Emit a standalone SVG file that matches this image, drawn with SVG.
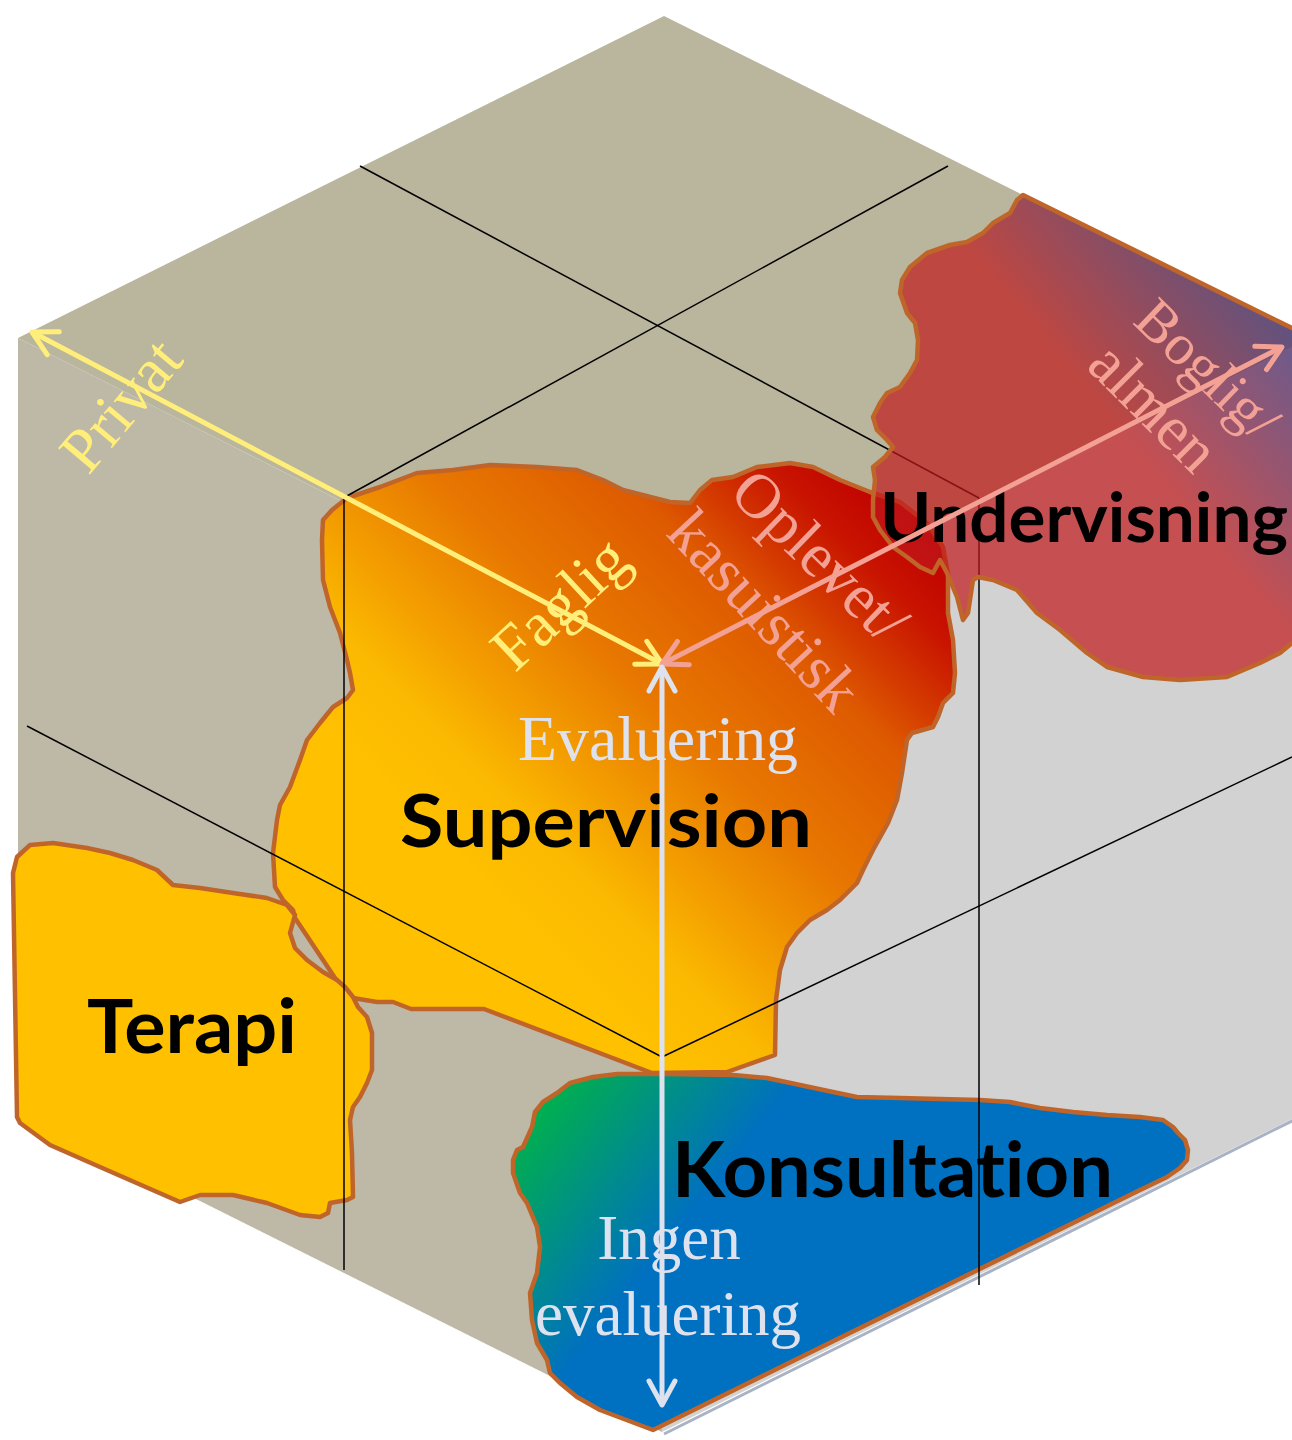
<svg xmlns="http://www.w3.org/2000/svg" width="1292" height="1440" viewBox="0 0 1292 1440">
<style>
.blob{stroke:#C0652A;stroke-width:4.5;stroke-linejoin:round}
.grid{stroke:#000;stroke-width:1.5;fill:none}
.bold{font-family:Lato,"Liberation Sans",sans-serif;font-weight:700;fill:#000;font-variant-ligatures:none;font-feature-settings:"liga" 0,"dlig" 0}
.serif{font-family:"Liberation Serif","Times New Roman",serif}
.ax{fill:none;stroke-width:5}
</style>
<defs>
<linearGradient id="gSup" gradientUnits="userSpaceOnUse" x1="500" y1="900" x2="900" y2="500">
<stop offset="0" stop-color="#FFC000"/>
<stop offset="0.14" stop-color="#FBB800"/>
<stop offset="0.44" stop-color="#E87800"/>
<stop offset="0.68" stop-color="#DE5A00"/>
<stop offset="0.88" stop-color="#C81400"/>
<stop offset="1" stop-color="#C00000"/>
</linearGradient>
<linearGradient id="gUnd" gradientUnits="userSpaceOnUse" x1="1000" y1="560" x2="1300" y2="310">
<stop offset="0" stop-color="#C0181A"/>
<stop offset="0.45" stop-color="#C0181A"/>
<stop offset="1" stop-color="#2E2A7A"/>
</linearGradient>
<linearGradient id="gKon" gradientUnits="userSpaceOnUse" x1="525" y1="1125" x2="670" y2="1240">
<stop offset="0" stop-color="#00B050"/>
<stop offset="0.15" stop-color="#00A65E"/>
<stop offset="1" stop-color="#0070C0"/>
</linearGradient>
<marker id="mY" viewBox="0 0 30 30" refX="27" refY="15" markerWidth="30" markerHeight="30" markerUnits="userSpaceOnUse" orient="auto-start-reverse" overflow="visible">
<path d="M3,2 L27,15 L3,28" fill="none" stroke="#FFEF7A" stroke-width="5" stroke-linecap="round" stroke-linejoin="round"/>
</marker>
<marker id="mS" viewBox="0 0 30 30" refX="27" refY="15" markerWidth="30" markerHeight="30" markerUnits="userSpaceOnUse" orient="auto-start-reverse" overflow="visible">
<path d="M3,2 L27,15 L3,28" fill="none" stroke="#F2A194" stroke-width="5" stroke-linecap="round" stroke-linejoin="round"/>
</marker>
<marker id="mL" viewBox="0 0 30 30" refX="27" refY="15" markerWidth="30" markerHeight="30" markerUnits="userSpaceOnUse" orient="auto-start-reverse" overflow="visible">
<path d="M3,2 L27,15 L3,28" fill="none" stroke="#DDE2EE" stroke-width="5" stroke-linecap="round" stroke-linejoin="round"/>
</marker>
</defs>
<rect x="0" y="0" width="1292" height="1440" fill="#FFFFFF"/>
<g id="cube">
<path d="M664,16 L1310,338 L662,663 L18,338 Z" fill="#BAB59D"/>
<path d="M18,338 L662,663 L662,1432 L18,1110 Z" fill="#BEB9A6"/>
<path d="M662,663 L1310,338 L1310,1110 L662,1432 Z" fill="#D2D2D2"/>
<path d="M664,1434 L1310,1112" stroke="#A9B3C6" stroke-width="3" fill="none"/>
</g>
<g id="node-supervision">
<path class="blob" fill="url(#gSup)" d="M323,520 L332,510 L347,498 L380,487 L417,473 L453,470 L490,465 L537,467 L577,470 L603,480 L623,490 L670,502 L690,503 L700,490 L712,480 L733,477 L757,467 L790,463 L813,467 L840,480 L870,492 L900,502 L927,523 L943,547 L948,575 L948,613 L953,640 L955,673 L953,693 L943,703 L938,717 L933,727 L912,733 L907,740 L902,773 L897,800 L888,823 L873,850 L863,870 L857,883 L840,900 L827,910 L810,920 L797,933 L787,947 L780,970 L776,1000 L775,1055 L727,1072 L652,1073 L484,1009 L446,1009 L411,1009 L393,1002 L377,1002 L353,998 L343,990 L295,918 L293,910 L283,900 L275,887 L273,853 L277,820 L280,805 L290,787 L300,760 L307,740 L320,723 L333,707 L347,698 L353,690 L350,673 L347,660 L340,633 L330,607 L323,580 L322,540 Z"/>
<text class="bold" x="400" y="847" font-size="72" textLength="412" lengthAdjust="spacingAndGlyphs">Supervision</text>
</g>
<g id="node-terapi">
<path class="blob" fill="#FFC000" d="M13,873 L17,857 L30,845 L53,843 L87,848 L110,853 L133,860 L157,870 L173,885 L200,888 L233,893 L267,898 L287,905 L295,915 L290,933 L295,948 L307,960 L323,972 L337,980 L345,987 L353,997 L358,1007 L367,1017 L372,1033 L372,1070 L367,1083 L360,1097 L353,1107 L350,1120 L352,1153 L353,1197 L347,1200 L330,1203 L328,1213 L320,1217 L300,1215 L267,1203 L233,1195 L200,1195 L180,1202 L100,1167 L50,1145 L20,1123 L17,1117 Z"/>
<text class="bold" x="87" y="1053" font-size="74" textLength="210" lengthAdjust="spacingAndGlyphs">Terapi</text>
</g>
<g id="node-konsultation">
<path class="blob" fill="url(#gKon)" d="M513,1160 L517,1150 L523,1147 L532,1127 L535,1112 L543,1102 L557,1093 L570,1083 L593,1077 L617,1074 L667,1074 L733,1075 L767,1078 L800,1085 L833,1092 L857,1097 L900,1098 L980,1100 L1010,1102 L1040,1108 L1073,1112 L1107,1115 L1140,1117 L1163,1120 L1173,1127 L1178,1133 L1185,1140 L1188,1150 L1187,1160 L1180,1168 L1167,1177 L1140,1190 L653,1430 L600,1410 L577,1397 L560,1383 L550,1373 L547,1360 L537,1343 L532,1320 L530,1293 L537,1273 L540,1247 L537,1227 L527,1203 L520,1193 L513,1173 Z"/>
<text class="bold" x="672" y="1197" font-size="76" textLength="441" lengthAdjust="spacingAndGlyphs">Konsultation</text>
</g>
<g id="grid">
<path class="grid" d="M360,166 L979,498"/>
<path class="grid" d="M948,166 L345,497"/>
<path class="grid" d="M344,497 L344,1270"/>
<path class="grid" d="M27,726 L662,1057"/>
<path class="grid" d="M662,1057 L1292,757"/>
<path class="grid" d="M979,498 L979,1285"/>
</g>
<g id="node-undervisning">
<path class="blob" fill="url(#gUnd)" fill-opacity="0.7" d="M1023,195 L1300,332 L1300,640 L1292,643 L1280,653 L1260,663 L1227,677 L1180,680 L1143,677 L1107,667 L1087,653 L1060,630 L1037,613 L1017,590 L993,580 L978,577 L973,580 L968,613 L963,620 L957,597 L947,573 L940,560 L933,573 L920,567 L907,557 L893,547 L880,530 L873,517 L873,500 L875,480 L873,467 L885,457 L893,447 L887,440 L877,430 L873,417 L880,403 L887,393 L900,387 L910,373 L917,360 L918,340 L915,323 L907,313 L900,293 L902,280 L910,267 L927,253 L950,245 L967,242 L983,233 L993,223 L1010,213 L1017,200 Z"/>
<text class="bold" x="880" y="542" font-size="68" textLength="408" lengthAdjust="spacingAndGlyphs">Undervisning</text>
</g>
<g id="connectors">
<path class="ax" stroke="#FFEF7A" d="M32,332 L662,664" marker-start="url(#mY)" marker-end="url(#mY)"/>
<path class="ax" stroke="#F2A194" d="M662,664 L1282,347" marker-start="url(#mS)" marker-end="url(#mS)"/>
<path class="ax" stroke="#DDE2EE" d="M662,667 L662,1405" marker-start="url(#mL)" marker-end="url(#mL)"/>
</g>
<g id="axis-labels" class="serif" font-size="63" text-anchor="middle">
<text fill="#FFEF7A" transform="translate(123,407) rotate(-50)" y="18">Privat</text>
<text fill="#FFEF7A" transform="translate(563,607) rotate(-43)" y="16">Faglig</text>
<text fill="#F2A194" transform="translate(818,558) rotate(44)" y="18">Oplevet/</text>
<text fill="#F2A194" transform="translate(761,614) rotate(47)" y="16">kasuistisk</text>
<text fill="#F2A194" transform="translate(1206,371) rotate(44)" y="17" font-size="58">Boglig/</text>
<text fill="#F2A194" transform="translate(1150,411) rotate(45)" y="15">almen</text>
<text fill="#DDE2EE" x="658" y="760" textLength="280" lengthAdjust="spacingAndGlyphs">Evaluering</text>
<text fill="#DDE2EE" x="669" y="1259">Ingen</text>
<text fill="#DDE2EE" x="668" y="1335">evaluering</text>
</g>
</svg>
